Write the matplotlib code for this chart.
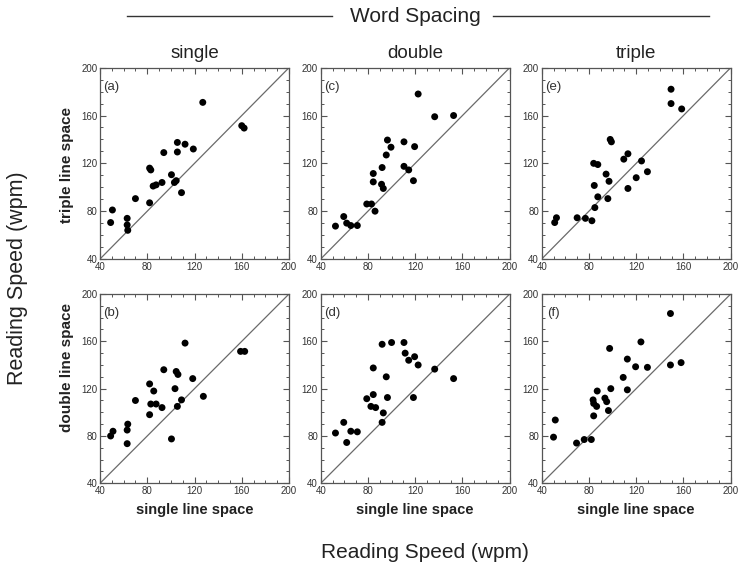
import matplotlib
matplotlib.use("Agg")
import matplotlib.pyplot as plt
from matplotlib.lines import Line2D
from matplotlib.ticker import MultipleLocator

plt.rcParams['font.family'] = ['Liberation Sans', 'DejaVu Sans']

# ---- data (single line space on x, other spacing on y) ----
# (a) single word spacing, triple vs single line space
a_x = [127, 160, 162, 105.5, 112, 119, 94, 105.5, 82, 83, 100.5, 104.5, 103, 92.5, 87.5, 85, 109, 70, 82, 50.5, 63, 49, 63, 63.5]
a_y = [171, 151.5, 149.5, 137.5, 136, 132, 129, 129.5, 116, 114.5, 110.5, 105.5, 104, 104, 102, 101, 95.5, 90.5, 87, 81, 74, 70.5, 68.5, 64]
# (b) single word spacing, double vs single line space
b_x = [112, 159, 162.5, 94, 104.5, 106, 118.5, 82, 85.5, 103.5, 109, 127.5, 70, 83, 87.5, 92.5, 105.5, 82, 63.5, 63, 51, 49, 63, 100.5]
b_y = [158.5, 151.5, 151.5, 136, 134.5, 132, 128.5, 124, 118, 120, 110.5, 113.5, 110, 107, 107, 104, 105, 98, 90, 85, 84, 80, 73.5, 77.5]
# (c) double word spacing, triple vs single line space
c_x = [122.5, 136.5, 152.5, 96.5, 99.5, 95.5, 110.5, 119.5, 110.5, 114.5, 92, 84.5, 84.5, 91.5, 93, 118.5, 79, 83, 86, 59.5, 62, 65.5, 52.5, 71]
c_y = [178, 159, 160, 139.5, 133.5, 127, 138, 134, 117.5, 114.5, 116.5, 111.5, 104.5, 102.5, 99, 105.5, 86, 86, 80, 75.5, 70, 68, 67.5, 68]
# (d) double word spacing, double vs single line space
d_x = [92, 100, 110.5, 111.5, 114.5, 119.5, 122.5, 136.5, 152.5, 84.5, 95.5, 84.5, 79, 96.5, 118.5, 82.5, 86.5, 93, 92, 59.5, 52.5, 65.5, 71, 62]
d_y = [157.5, 159, 159, 150, 144, 147, 140, 136.5, 128.5, 137.5, 130, 115, 111.5, 112.5, 112.5, 105, 104, 99.5, 91.5, 91.5, 82.5, 84, 83.5, 74.5]
# (e) triple word spacing, triple vs single line space
e_x = [149.5, 149.5, 158.5, 98, 99, 109.5, 113, 124.5, 129.5, 120, 113, 84, 87.5, 94.5, 97, 84.5, 87.5, 96, 85, 70, 77, 82.5, 52.5, 51]
e_y = [182, 170, 165.5, 140, 138, 123.5, 128, 122, 113, 108, 99, 120, 119, 111, 105, 101.5, 92, 90.5, 83, 74.5, 74, 72, 74.5, 70.5]
# (f) triple word spacing, double vs single line space
f_x = [149, 97.5, 124, 112.5, 119.5, 129.5, 149, 158, 109, 98.5, 112.5, 87, 83.5, 93.5, 95, 84, 86.5, 96.5, 84, 51.5, 50, 69.5, 76, 82]
f_y = [183.5, 154, 159.5, 145, 138.5, 138, 140, 142, 129.5, 120, 119, 118, 110.5, 112, 109, 107.5, 105, 101.5, 97, 93.5, 79, 74, 77, 77]

panels = [
    [(a_x, a_y, "(a)"), (c_x, c_y, "(c)"), (e_x, e_y, "(e)")],
    [(b_x, b_y, "(b)"), (d_x, d_y, "(d)"), (f_x, f_y, "(f)")],
]
col_titles = ["single", "double", "triple"]
row_labels = ["triple line space", "double line space"]
ticks = [40, 80, 120, 160, 200]

W, H = 750, 573
fig = plt.figure(figsize=(W / 100, H / 100), dpi=100)

col_left = [100, 320.7, 541.7]
col_w = 189
row_top = [67.7, 294]
row_h = [191.3, 189.3]

tick_col = '#333333'
for r in range(2):
    for c in range(3):
        xs, ys, lab = panels[r][c]
        ax = fig.add_axes([col_left[c] / W, 1 - (row_top[r] + row_h[r]) / H, col_w / W, row_h[r] / H])
        ax.plot([40, 200], [40, 200], color='#6a6a6a', lw=0.9, zorder=1)
        ax.scatter(xs, ys, s=25, color='black', edgecolors='none', zorder=3)
        ax.set_xlim(40, 200)
        ax.set_ylim(40, 200)
        ax.set_xticks(ticks)
        ax.set_yticks(ticks)
        ax.xaxis.set_minor_locator(MultipleLocator(10))
        ax.yaxis.set_minor_locator(MultipleLocator(10))
        ax.tick_params(which='both', direction='in', top=True, right=True, colors='#555555',
                       labelcolor=tick_col, labelsize=7)
        ax.tick_params(which='major', length=4, width=0.8, pad=2)
        ax.tick_params(which='minor', length=2.2, width=0.7)
        for sp in ax.spines.values():
            sp.set_color('#555555')
            sp.set_linewidth(0.9)
        ax.text(0.06, 0.9, lab, transform=ax.transAxes, fontsize=9.5, color='#333333',
                ha='center', va='center')
        if r == 0:
            ax.set_title(col_titles[c], fontsize=13.5, pad=7, color='#222222')
        if r == 1:
            fig.text((col_left[c] + col_w / 2) / W, 1 - 510 / H, "single line space",
                     ha='center', va='center', fontsize=10.5, fontweight='bold', color='#222222')

fig.text(67 / W, 1 - 165 / H, row_labels[0], rotation=90, ha='center', va='center',
         fontsize=11, fontweight='bold', color='#222222')
fig.text(67 / W, 1 - 368 / H, row_labels[1], rotation=90, ha='center', va='center',
         fontsize=11, fontweight='bold', color='#222222')

fig.text(18 / W, 1 - 278 / H, "Reading Speed (wpm)", rotation=90, ha='center', va='center',
         fontsize=15.5, color='#222222')
fig.text(425 / W, 1 - 553 / H, "Reading Speed (wpm)", ha='center', va='center',
         fontsize=15, color='#222222')

fig.text(415.7 / W, 1 - 16 / H, "Word Spacing", ha='center', va='center', fontsize=15, color='#222222')
ly = 1 - 15.7 / H
fig.add_artist(Line2D([127 / W, 332 / W], [ly, ly], transform=fig.transFigure, color='#333333', lw=1))
fig.add_artist(Line2D([493 / W, 709 / W], [ly, ly], transform=fig.transFigure, color='#333333', lw=1))

fig.savefig("out.png", dpi=100)
